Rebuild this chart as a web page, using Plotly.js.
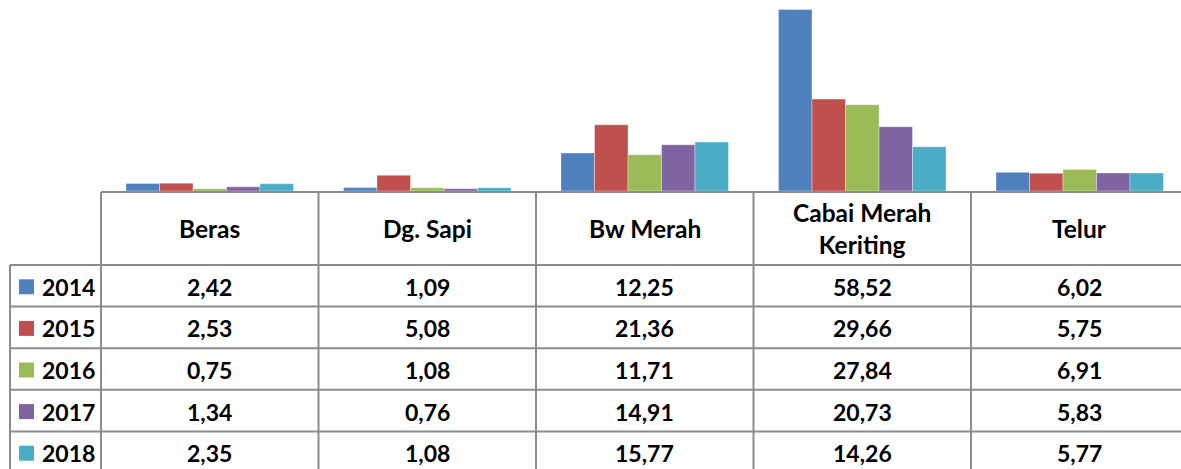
<!DOCTYPE html>
<html><head><meta charset="utf-8">
<script src="https://cdn.plot.ly/plotly-3.0.1.min.js"></script>
<style>html,body{margin:0;padding:0;background:#fff;overflow:hidden}#chart{width:1181px;height:469px}</style>
</head><body><div id="chart"></div>
<script>
// ---- data ----
const categories = ['Beras', 'Dg. Sapi', 'Bw Merah', 'Cabai Merah<br>Keriting', 'Telur'];
const years = ['2014', '2015', '2016', '2017', '2018'];
const v2014 = [2.42, 1.09, 12.25, 58.52, 6.02];
const v2015 = [2.53, 5.08, 21.36, 29.66, 5.75];
const v2016 = [0.75, 1.08, 11.71, 27.84, 6.91];
const v2017 = [1.34, 0.76, 14.91, 20.73, 5.83];
const v2018 = [2.35, 1.08, 15.77, 14.26, 5.77];
const series = [v2014, v2015, v2016, v2017, v2018];
const colors = ['#4F81BD', '#C0504D', '#9BBB59', '#8064A2', '#4BACC6'];

// ---- geometry ----
const W = 1181, H = 469;
const mL = 101, mR = 0, mT = 5, mB = 278;
const plotW = W - mL - mR, plotH = H - mT - mB;
const colW = 217.5;
const xr = [-0.5, -0.5 + plotW / colW];
const yr = [0, 60];
const plotBottom = H - mB;
const px2paperX = px => (px - mL) / plotW;
const py2paperY = py => (plotBottom - py) / plotH;
const idx2px = v => mL + (v - xr[0]) / (xr[1] - xr[0]) * plotW;

const headTop = 192, headBot = 265, rowH = 41.6;
const labelLeft = 10;
const gridColor = '#8C8C8C';
const font = {family: 'Lato, "Open Sans", sans-serif', size: 23, color: '#000', weight: 700};
const headFont = Object.assign({}, font, {size: 24.5});

const traces = series.map((vals, k) => ({
  type: 'bar',
  name: years[k],
  x: categories.map((c, i) => i),
  y: vals,
  marker: {color: colors[k], line: {width: 0.6, color: 'rgba(255,255,255,0.6)'}},
  hoverinfo: 'skip'
}));

// table grid as a single SVG path in paper coordinates
const nRows = years.length;
const tableBottom = Math.min(headBot + nRows * rowH + 5, H + 2);
const segs = [];
const seg = (x0, y0, x1, y1) => segs.push(
  'M' + px2paperX(x0) + ',' + py2paperY(y0) + 'L' + px2paperX(x1) + ',' + py2paperY(y1));
seg(mL, headTop, W + 4, headTop);
for (let r = 0; r <= nRows; r++) {
  const y = headBot + r * rowH;
  if (y < H + 2) seg(labelLeft, y, W + 4, y);
}
seg(labelLeft, headBot, labelLeft, tableBottom);
for (let i = 0; i <= categories.length; i++) {
  const x = idx2px(i - 0.5);
  if (x < W) seg(x, headTop, x, tableBottom);
}
const shapes = [{
  type: 'path', xref: 'paper', yref: 'paper', path: segs.join(' '),
  line: {color: gridColor, width: 2}
}];

const annotations = [];
categories.forEach((c, i) => {
  annotations.push({
    xref: 'paper', yref: 'paper',
    x: px2paperX(idx2px(i)), y: py2paperY((headTop + headBot) / 2),
    text: c, showarrow: false, font: headFont, xanchor: 'center', yanchor: 'middle', align: 'center'
  });
});
const fmt = v => v.toFixed(2).replace('.', ',');
years.forEach((yv, r) => {
  const cy = headBot + (r + 0.5) * rowH;
  shapes.push({
    type: 'rect', xref: 'paper', yref: 'paper',
    x0: px2paperX(19), x1: px2paperX(34),
    y0: py2paperY(cy - 7.5 + 1), y1: py2paperY(cy + 7.5 + 1),
    fillcolor: colors[r], line: {width: 0}
  });
  annotations.push({
    xref: 'paper', yref: 'paper', x: px2paperX(40), y: py2paperY(cy + 1),
    text: yv, showarrow: false, font: font, xanchor: 'left', yanchor: 'middle'
  });
  series[r].forEach((v, i) => {
    annotations.push({
      xref: 'paper', yref: 'paper', x: px2paperX(idx2px(i)), y: py2paperY(cy + 1),
      text: fmt(v), showarrow: false, font: font, xanchor: 'center', yanchor: 'middle'
    });
  });
});

const layout = {
  width: W, height: H,
  margin: {l: mL, r: mR, t: mT, b: mB, pad: 0},
  paper_bgcolor: '#fff', plot_bgcolor: '#fff',
  barmode: 'group', bargap: 0.23, bargroupgap: 0,
  showlegend: false,
  xaxis: {range: xr, showticklabels: false, ticks: '', showgrid: false, zeroline: false, showline: false, fixedrange: true},
  yaxis: {range: yr, showticklabels: false, ticks: '', showgrid: false, zeroline: false, showline: false, fixedrange: true},
  shapes: shapes,
  annotations: annotations
};

Plotly.newPlot('chart', traces, layout, {displayModeBar: false, staticPlot: true});
</script>
</body></html>
